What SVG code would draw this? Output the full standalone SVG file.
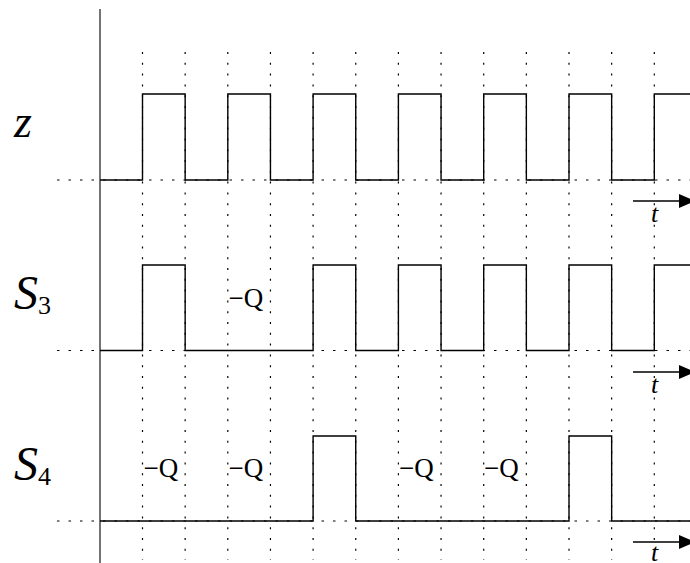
<svg xmlns="http://www.w3.org/2000/svg" width="690" height="563" viewBox="0 0 690 563">
<defs>
<style>
.grid{stroke:#000;stroke-width:1.2;stroke-dasharray:2 8.8;fill:none}
.hgrid{stroke:#000;stroke-width:1.2;stroke-dasharray:2.5 9;fill:none}
.wave{stroke:#000;stroke-width:1.4;fill:none}
.axis{stroke:#000;stroke-width:1.1}
.arr{stroke:#000;stroke-width:1.3}
text{font-family:"Times New Roman",Times,"Liberation Serif","Nimbus Roman","Noto Serif","DejaVu Serif",FreeSerif,serif;fill:#000}
.q{font-size:27px}
</style>
<marker id="ah" markerWidth="16" markerHeight="16" refX="15" refY="8" orient="auto" markerUnits="userSpaceOnUse">
<path d="M0,1 L16,8 L0,15 Z" fill="#000"/>
</marker>
</defs>
<rect width="690" height="563" fill="#fff"/>
<g id="grid">
<path class="grid" d="M142.5,52V560 M185.15,52V560 M227.8,52V560 M270.45,52V560 M313.1,52V560 M355.75,52V560 M398.4,52V560 M441.05,52V560 M483.7,52V560 M526.35,52V560 M569,52V560 M611.65,52V560 M654.3,52V560"/>
<path class="hgrid" d="M57,180H690 M57,350.5H690 M57,521H690"/>
</g>
<g id="axis"><line class="axis" x1="100" y1="9" x2="100" y2="563"/></g>
<g id="connectors">
<line class="arr" x1="633" y1="201" x2="694" y2="201" marker-end="url(#ah)"/>
<line class="arr" x1="633" y1="372" x2="694" y2="372" marker-end="url(#ah)"/>
<line class="arr" x1="633" y1="542" x2="694" y2="542" marker-end="url(#ah)"/>
</g>
<g id="z">
<path class="wave" d="M100,180H142.5V94H185.15V180H227.8V94H270.45V180H313.1V94H355.75V180H398.4V94H441.05V180H483.7V94H526.35V180H569V94H611.65V180H654.3V94H690"/>
<text x="14" y="137" font-size="46" font-style="italic">z</text>
<text x="651" y="222" font-size="26" font-style="italic">t</text>
</g>
<g id="S3">
<path class="wave" d="M100,350.5H142.5V265H185.15V350.5H313.1V265H355.75V350.5H398.4V265H441.05V350.5H483.7V265H526.35V350.5H569V265H611.65V350.5H654.3V265H690"/>
<text x="14" y="309" font-size="48" font-style="italic">S<tspan font-style="normal" font-size="26" dy="5">3</tspan></text>
<text class="q" x="228.5" y="307">−Q</text>
<text x="651" y="393" font-size="26" font-style="italic">t</text>
</g>
<g id="S4">
<path class="wave" d="M100,521H313.1V436H355.75V521H569V436H611.65V521H690"/>
<text x="14" y="480" font-size="48" font-style="italic">S<tspan font-style="normal" font-size="26" dy="5">4</tspan></text>
<text class="q" x="143.5" y="477">−Q</text>
<text class="q" x="228.5" y="477">−Q</text>
<text class="q" x="399" y="477">−Q</text>
<text class="q" x="484" y="477">−Q</text>
<text x="651" y="561" font-size="26" font-style="italic">t</text>
</g>
</svg>
